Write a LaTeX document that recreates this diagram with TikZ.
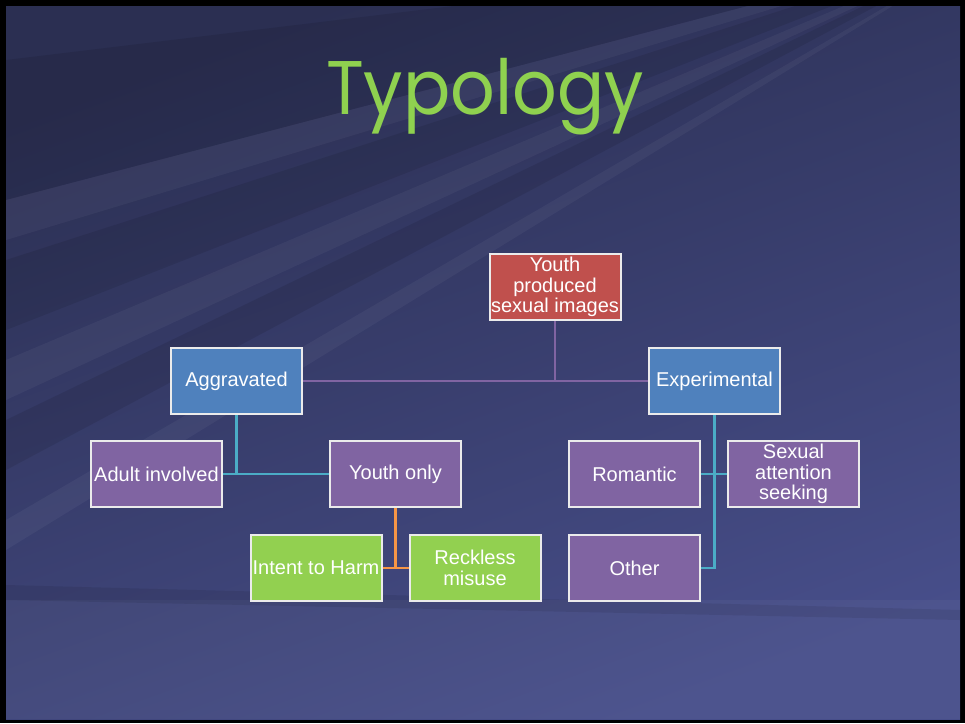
\documentclass[tikz,border=0pt]{standalone}
\usepackage{fontspec}
\setmainfont{Liberation Sans}
\newfontfamily\titlefont{Poppins}
\usetikzlibrary{positioning}
\definecolor{bgdark}{HTML}{2B2F52}
\definecolor{bglight}{HTML}{474E8A}
\definecolor{cred}{HTML}{C0504D}
\definecolor{cblue}{HTML}{4F81BD}
\definecolor{cpurple}{HTML}{8064A2}
\definecolor{cgreen}{HTML}{92D050}
\definecolor{cteal}{HTML}{4BACC6}
\definecolor{corange}{HTML}{F79646}
\definecolor{ctitle}{HTML}{8FD14F}
\tikzset{
  box/.style={draw=white!92!black, line width=2pt, minimum width=131pt, minimum height=66pt,
    inner sep=1pt, text=white, align=center, font=\fontsize{20}{20.5}\selectfont},
  redbox/.style={box, fill=cred},
  bluebox/.style={box, fill=cblue},
  purplebox/.style={box, fill=cpurple},
  greenbox/.style={box, fill=cgreen},
  conn/.style={line width=2.6pt},
  ray/.style={fill=white, opacity=0.045},
  dray/.style={fill=black, opacity=0.09}
}
\begin{document}
\begin{tikzpicture}[x=1pt,y=-1pt]
\useasboundingbox (0,0) rectangle (965,723);
\fill[black] (0,0) rectangle (965,723);
\begin{scope}
\clip (6,6) rectangle (960,719);
\shade[top color=bgdark, bottom color=bglight, shading angle=20] (6,6) rectangle (960,719);
% rays from upper right
\coordinate (F) at (1000,-60);
\fill[dray] (F) -- (6,60) -- (6,200) -- cycle;
\fill[ray] (F) -- (6,200) -- (6,240) -- cycle;
\fill[dray] (F) -- (6,260) -- (6,330) -- cycle;
\fill[ray] (F) -- (6,360) -- (6,400) -- cycle;
\fill[dray] (F) -- (6,420) -- (6,470) -- cycle;
\fill[ray] (F) -- (300,6) -- (380,6) -- cycle;
\fill[dray] (F) -- (380,6) -- (520,6) -- cycle;
\fill[ray] (F) -- (560,6) -- (620,6) -- cycle;
\fill[dray] (F) -- (650,6) -- (760,6) -- cycle;
\fill[ray] (F) -- (800,6) -- (840,6) -- cycle;
\fill[ray] (F) -- (960,520) -- (960,560) -- cycle;
\fill[dray] (F) -- (960,400) -- (960,480) -- cycle;
\fill[ray] (F) -- (6,520) -- (6,550) -- cycle;
\fill[dray] (F) -- (960,180) -- (960,300) -- cycle;
\fill[ray] (F) -- (960,100) -- (960,150) -- cycle;
\fill[ray] (F) -- (960,330) -- (960,370) -- cycle;
\fill[ray] (F) -- (880,6) -- (900,6) -- cycle;
\fill[white, opacity=0.035] (6,600) rectangle (960,719);
\fill[black, opacity=0.08] (6,585) -- (960,610) -- (960,620) -- (6,600) -- cycle;
\end{scope}
% title
\node[text=ctitle, font=\titlefont\fontsize{76}{80}\selectfont\addfontfeatures{FakeStretch=0.92}] (title) at (485,97) {Typology};
% nodes
\node[redbox] (root) at (555,287) {Youth\\produced\\sexual images};
\node[bluebox] (agg) at (236.5,381) {Aggravated};
\node[bluebox] (exp) at (714.5,381) {Experimental};
\node[purplebox] (adult) at (156.5,474) {Adult involved};
\node[purplebox] (youth) at (395.5,474) {Youth only};
\node[purplebox] (rom) at (634.5,474) {Romantic};
\node[purplebox] (sex) at (793.5,474) {Sexual\\attention\\seeking};
\node[greenbox] (intent) at (316,568) {Intent to Harm};
\node[greenbox] (reck) at (475,568) {Reckless\\misuse};
\node[purplebox] (other) at (634.5,568) {Other};
% connectors
\coordinate (j1) at (555,380);
\draw[conn, cpurple] (root.south) -- (j1);
\draw[conn, cpurple] (agg.east) -- (exp.west);
\coordinate (j2) at (236.5,474);
\draw[conn, cteal] (agg.south) -- (j2);
\draw[conn, cteal] (adult.east) -- (youth.west);
\coordinate (j4) at (714.5,568);
\draw[conn, cteal] (exp.south) -- (j4) -- (other.east);
\draw[conn, cteal] (rom.east) -- (sex.west);
\coordinate (j5) at (395.5,568);
\draw[conn, corange] (youth.south) -- (j5);
\draw[conn, corange] (intent.east) -- (reck.west);
\end{tikzpicture}
\end{document}
